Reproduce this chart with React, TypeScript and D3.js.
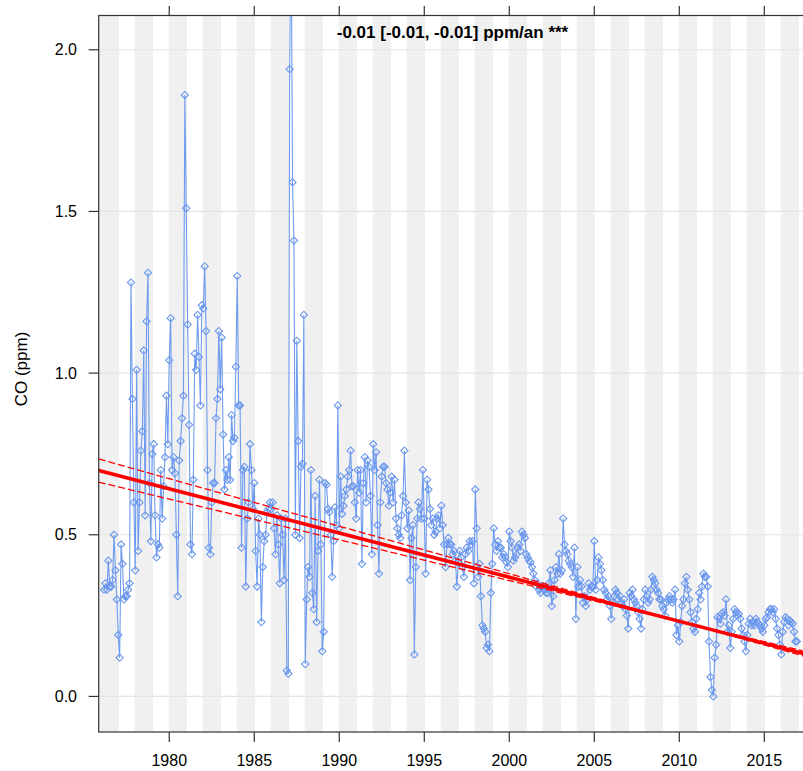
import React from 'react';
import * as d3 from 'd3';

// ---- data: monthly CO means (ppm), series starts March 1976 ----
const seriesStartYear = 1976;
const seriesStartMonth = 2; // 0-based month index (March)

const co1970s = [
  // 1976 (Mar-Dec)
  0.33, 0.35, 0.33, 0.42, 0.34, 0.34, 0.36, 0.50, 0.39, 0.30,
  // 1977
  0.19, 0.12, 0.47, 0.41, 0.30, 0.31, 0.31, 0.33, 0.35, 1.28, 0.92, 0.60,
  // 1978
  0.39, 1.01, 0.45, 0.60, 0.76, 0.82, 1.07, 0.56, 1.16, 1.31, 0.66, 0.48,
  // 1979
  0.75, 0.78, 0.56, 0.43, 0.47, 0.46, 0.70, 0.55, 0.65, 0.74, 0.93, 0.78,
];
const co1980s = [
  1.04, 1.17, 0.70, 0.74, 0.69, 0.50, 0.31, 0.73, 0.79, 0.86, 0.93, 1.86,
  1.51, 1.15, 0.84, 0.47, 0.44, 0.67, 1.06, 1.01, 1.18, 1.05, 0.90, 1.21,
  1.20, 1.33, 1.13, 0.70, 0.46, 0.44, 0.60, 0.66, 0.66, 0.86, 0.92, 1.13,
  0.95, 1.11, 0.81, 0.64, 0.70, 0.67, 0.74, 0.67, 0.87, 0.79, 0.80, 1.02,
  1.30, 0.90, 0.90, 0.46, 0.70, 0.71, 0.34, 0.55, 0.60, 0.78, 0.70, 0.58,
  0.66, 0.45, 0.34, 0.55, 0.50, 0.23, 0.40, 0.48, 0.50, 0.57, 0.58, 0.60,
  0.58, 0.60, 0.52, 0.44, 0.56, 0.47, 0.35, 0.55, 0.50, 0.36, 0.55, 0.08,
  0.07, 1.94, 2.45, 1.59, 1.41, 0.50, 1.10, 0.79, 0.49, 0.71, 0.72, 1.18,
  0.10, 0.30, 0.40, 0.37, 0.70, 0.32, 0.27, 0.62, 0.23, 0.45, 0.67, 0.47,
  0.14, 0.20, 0.66, 0.655, 0.58, 0.57, 0.50, 0.37, 0.48, 0.585, 0.53, 0.90,
];
const co1990s = [
  0.52, 0.68, 0.565, 0.59, 0.62, 0.64, 0.68, 0.70, 0.76, 0.65, 0.65, 0.60,
  0.55, 0.70, 0.63, 0.70, 0.41, 0.66, 0.74, 0.60, 0.73, 0.71, 0.62, 0.44,
  0.78, 0.70, 0.755, 0.53, 0.38, 0.60, 0.68, 0.71, 0.71, 0.66, 0.64, 0.59,
  0.63, 0.68, 0.60, 0.67, 0.55, 0.52, 0.50, 0.49, 0.56, 0.62, 0.76, 0.60,
  0.52, 0.575, 0.36, 0.49, 0.53, 0.13, 0.40, 0.55, 0.60, 0.58, 0.55, 0.70,
  0.55, 0.38, 0.67, 0.64, 0.58, 0.53, 0.55, 0.50, 0.51, 0.55, 0.56, 0.52,
  0.59, 0.53, 0.47, 0.40, 0.47, 0.49, 0.47, 0.47, 0.44, 0.45, 0.42, 0.34,
  0.415, 0.45, 0.43, 0.40, 0.37, 0.44, 0.46, 0.45, 0.48, 0.47, 0.48, 0.35,
  0.64, 0.52, 0.37, 0.41, 0.31, 0.22, 0.21, 0.20, 0.15, 0.16, 0.14, 0.32,
  0.41, 0.52, 0.47, 0.45, 0.48, 0.46, 0.46, 0.43, 0.44, 0.43, 0.415, 0.40,
];
const co2000s = [
  0.51, 0.48, 0.46, 0.42, 0.43, 0.44, 0.46, 0.47, 0.45, 0.51, 0.50, 0.49,
  0.44, 0.43, 0.42, 0.415, 0.40, 0.38, 0.36, 0.34, 0.35, 0.33, 0.32, 0.34,
  0.34, 0.33, 0.32, 0.32, 0.35, 0.39, 0.28, 0.31, 0.36, 0.40, 0.38, 0.44,
  0.38, 0.39, 0.55, 0.47, 0.45, 0.44, 0.42, 0.41, 0.40, 0.37, 0.46, 0.24,
  0.40, 0.34, 0.36, 0.34, 0.29, 0.31, 0.28, 0.30, 0.35, 0.33, 0.34, 0.34,
  0.48, 0.33, 0.36, 0.43, 0.41, 0.39, 0.36, 0.33, 0.32, 0.30, 0.31, 0.28,
  0.24, 0.29, 0.31, 0.33, 0.32, 0.30, 0.31, 0.29, 0.28, 0.30, 0.27, 0.25,
  0.21, 0.32, 0.31, 0.33, 0.30, 0.29, 0.28, 0.26, 0.24, 0.21, 0.27, 0.30,
  0.33, 0.31, 0.29, 0.30, 0.33, 0.37, 0.36, 0.35, 0.33, 0.32, 0.30, 0.30,
  0.28, 0.27, 0.25, 0.29, 0.30, 0.31, 0.30, 0.29, 0.30, 0.33, 0.19, 0.22,
];
const co2010s = [
  0.17, 0.23, 0.28, 0.30, 0.35, 0.37, 0.33, 0.30, 0.26, 0.23, 0.21, 0.20,
  0.24, 0.27, 0.32, 0.30, 0.34, 0.38, 0.37, 0.37, 0.34, 0.17, 0.06, 0.02,
  0.00, 0.12, 0.16, 0.245, 0.24, 0.225, 0.256, 0.26, 0.25, 0.30, 0.20, 0.22,
  0.15, 0.20, 0.24, 0.27, 0.26, 0.25, 0.256, 0.24, 0.21, 0.19, 0.17, 0.14,
  0.19, 0.225, 0.24, 0.22, 0.23, 0.22, 0.24, 0.23, 0.225, 0.22, 0.21, 0.20,
  0.22, 0.24, 0.245, 0.26, 0.27, 0.27, 0.26, 0.27, 0.24, 0.21, 0.19, 0.16,
  0.13, 0.20, 0.23, 0.245, 0.24, 0.22, 0.235, 0.23, 0.225, 0.20, 0.17, 0.17,
];

// axis content
const xTickYears = [1980, 1985, 1990, 1995, 2000, 2005, 2010, 2015];
const yTickValues = [0, 0.5, 1.0, 1.5, 2.0];
const yTickLabels = ['0.0', '0.5', '1.0', '1.5', '2.0'];
const yAxisTitle = 'CO (ppm)';
const trendLabel = '-0.01 [-0.01, -0.01] ppm/an ***';
const shadeYears = d3.range(1976, 2018, 2);

// Theil-Sen trend and its confidence lines
const trendAnchorYear = 2003;
const trendAnchorValue = 0.328;
const trendSlope = -0.01365;
const ciPivotYear = 2010;
const ciSlopeSteep = -0.0147;
const ciSlopeShallow = -0.0126;

// ---- layout ----
const W = 803;
const H = 771;
const panel = { left: 98.7, right: 806.3, top: 15.5, bottom: 732 };
const xDomain = [1975.85, 2017.47];
const yDomain = [-0.11, 2.106];
const FONT = '"Liberation Sans", Arial, Helvetica, sans-serif';

export default function App() {
  const x = d3.scaleLinear().domain(xDomain).range([panel.left, panel.right]);
  const y = d3.scaleLinear().domain(yDomain).range([panel.bottom, panel.top]);

  const values = [...co1970s, ...co1980s, ...co1990s, ...co2000s, ...co2010s];
  const data = values.map((v, i) => {
    const m = seriesStartMonth + i;
    return { t: seriesStartYear + m / 12, v };
  });

  const line = d3.line<{ t: number; v: number }>().x(d => x(d.t)).y(d => y(d.v));
  const sq = d3.symbol(d3.symbolSquare, 26)() as string;

  const trendAt = (t: number) => trendAnchorValue + trendSlope * (t - trendAnchorYear);
  const pivotV = trendAt(ciPivotYear);
  const ciAt = (s: number, t: number) => pivotV + s * (t - ciPivotYear);
  const [t0, t1] = xDomain;

  const axisColor = '#333333';

  return (
    <svg width={W} height={H} style={{ position: 'absolute', left: 0, top: 0, background: '#fff' }}
      fontFamily={FONT}>
      <defs>
        <clipPath id="panelClip">
          <rect x={panel.left} y={panel.top} width={panel.right - panel.left} height={panel.bottom - panel.top} />
        </clipPath>
      </defs>
      <g clipPath="url(#panelClip)">
        {shadeYears.map((yr, i) => {
          const xa = i === 0 ? x(t0) : x(yr) - 0.5;
          const xb = x(yr + 1) + 0.8;
          return <rect key={yr} x={xa} y={panel.top} width={xb - xa} height={panel.bottom - panel.top} fill="#f0f0f0" />;
        })}
        {yTickValues.map(v => (
          <line key={v} x1={panel.left} x2={panel.right} y1={y(v)} y2={y(v)} stroke="#e4e4e4" strokeWidth={1.2} />
        ))}
        <path d={line(data) as string} fill="none" stroke="#6e9bef" strokeWidth={1.1} />
        {data.map((d, i) => (
          <path key={i} d={sq} transform={`translate(${x(d.t)},${y(d.v)}) rotate(45)`}
            fill="none" stroke="#6a97ee" strokeWidth={1.1} />
        ))}
        <line x1={x(t0)} x2={x(t1)} y1={y(ciAt(ciSlopeSteep, t0))} y2={y(ciAt(ciSlopeSteep, t1))}
          stroke="#ff0000" strokeWidth={1.3} strokeDasharray="7,3" />
        <line x1={x(t0)} x2={x(t1)} y1={y(ciAt(ciSlopeShallow, t0))} y2={y(ciAt(ciSlopeShallow, t1))}
          stroke="#ff0000" strokeWidth={1.3} strokeDasharray="7,3" />
        <line x1={x(t0)} x2={x(t1)} y1={y(trendAt(t0))} y2={y(trendAt(t1))}
          stroke="#ff0000" strokeWidth={3.6} />
        <text x={(panel.left + panel.right) / 2} y={37.5} textAnchor="middle" fontSize={17}
          fontWeight="bold" fill="#000">{trendLabel}</text>
      </g>
      {/* frame */}
      <rect x={panel.left} y={panel.top} width={panel.right - panel.left} height={panel.bottom - panel.top}
        fill="none" stroke={axisColor} strokeWidth={1.2} />
      {/* left ticks and labels */}
      {yTickValues.map((v, i) => (
        <g key={v}>
          <line x1={panel.left - 10} x2={panel.left} y1={y(v)} y2={y(v)} stroke={axisColor} strokeWidth={1.2} />
          <text x={77} y={y(v) + 5.7} textAnchor="end" fontSize={16} fill="#000">{yTickLabels[i]}</text>
        </g>
      ))}
      {/* bottom & top ticks */}
      {xTickYears.map(yr => (
        <g key={yr}>
          <line x1={x(yr)} x2={x(yr)} y1={panel.bottom} y2={panel.bottom + 10} stroke={axisColor} strokeWidth={1.2} />
          <line x1={x(yr)} x2={x(yr)} y1={panel.top} y2={panel.top - 9.5} stroke={axisColor} strokeWidth={1.2} />
          <text x={x(yr)} y={766} textAnchor="middle" fontSize={16} fill="#000">{yr}</text>
        </g>
      ))}
      <text transform={`translate(27,369) rotate(-90)`} textAnchor="middle"
        fontSize={17} fill="#000">{yAxisTitle}</text>
    </svg>
  );
}
